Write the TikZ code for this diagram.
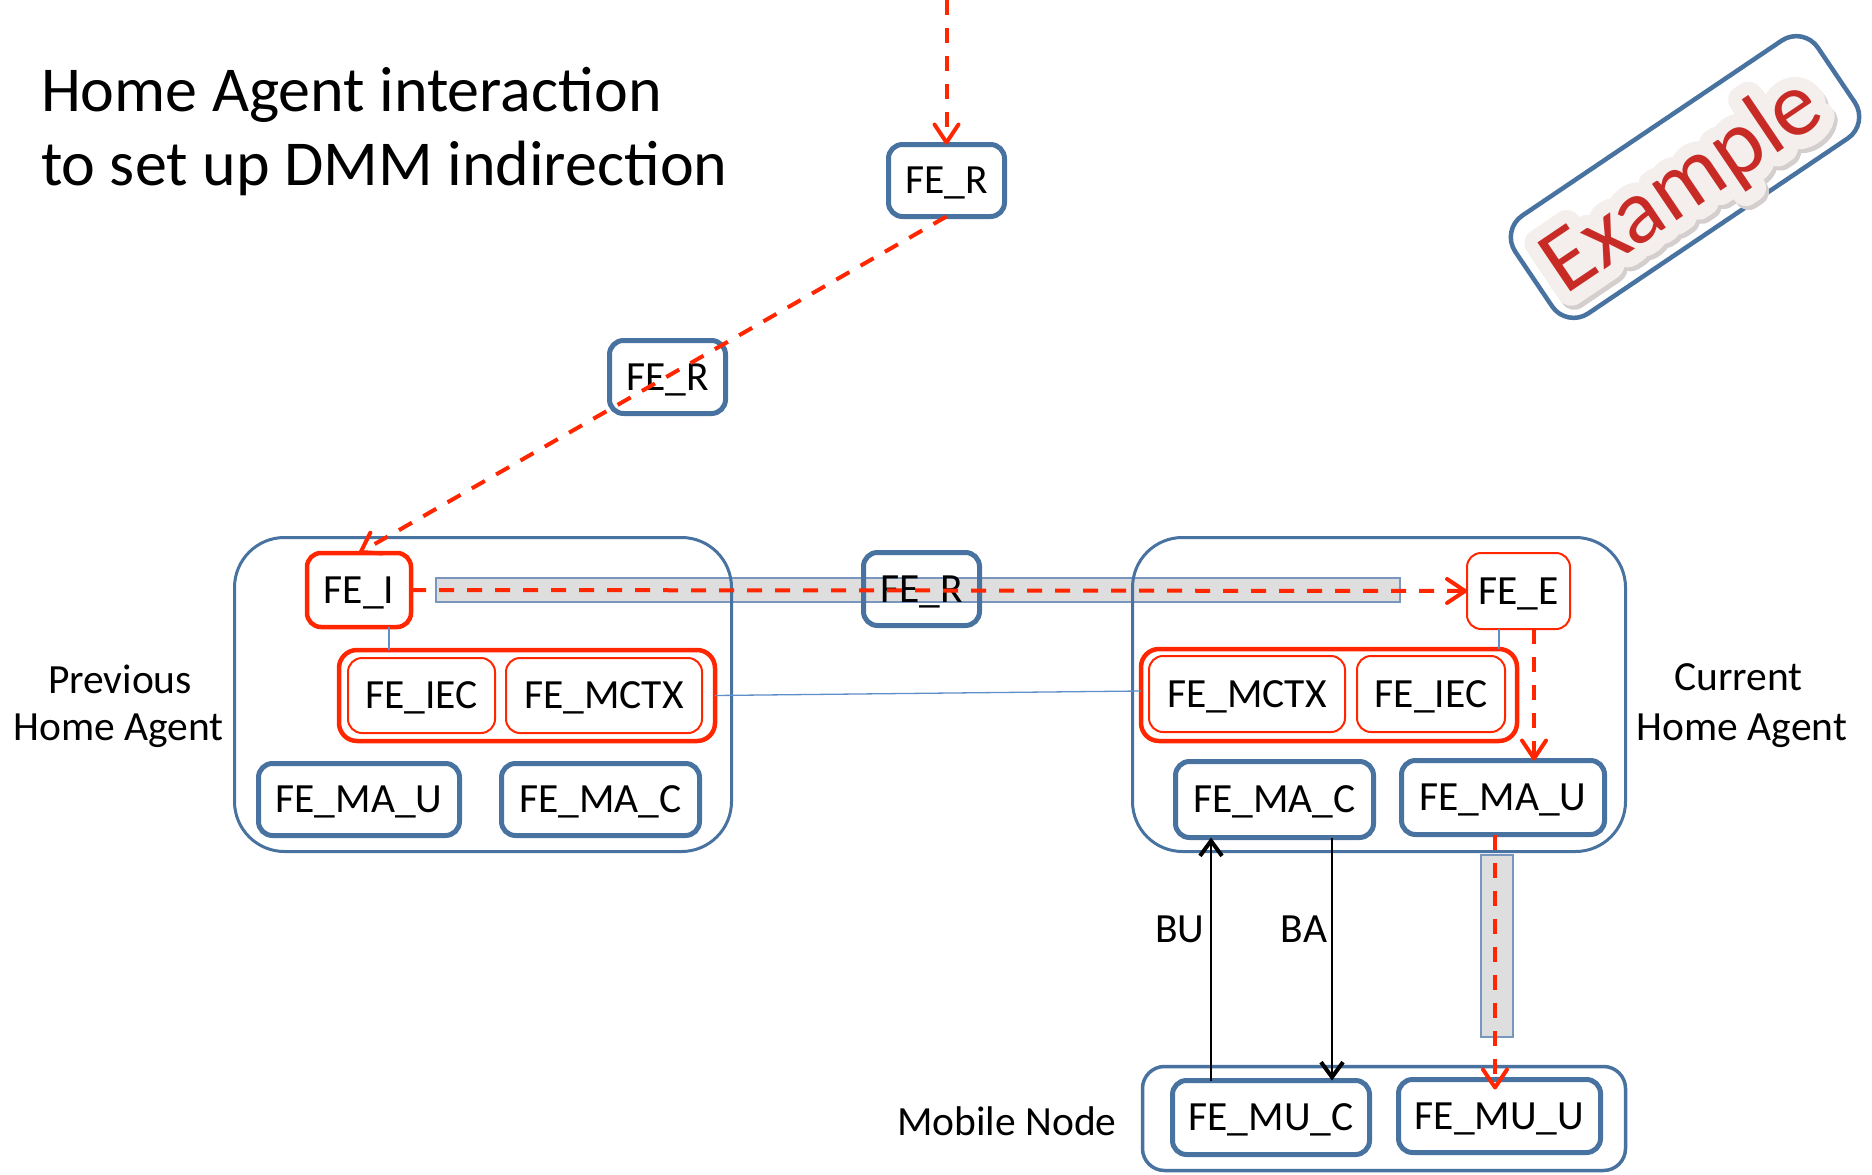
\documentclass[tikz,border=0pt]{standalone}
\usepackage{fontspec}
\setmainfont{Carlito}
\newfontfamily\stickerfont[FakeBold=30]{Carlito}
\usetikzlibrary{arrows.meta,calc}

\definecolor{haBlue}{RGB}{72,114,160}
\definecolor{feRed}{RGB}{255,38,0}
\definecolor{linkBlue}{RGB}{96,142,200}
\definecolor{barGray}{RGB}{222,222,222}
\definecolor{barEdge}{RGB}{120,150,190}
\definecolor{exRed}{RGB}{200,42,38}
\definecolor{exPaper}{RGB}{244,238,237}
\definecolor{exShadow}{RGB}{212,206,206}

\newcommand\boxfont{\fontsize{41.5}{49}\selectfont}
\newcommand\titlefont{\fontsize{64}{74}\selectfont}
\newcommand\stampfont{\fontsize{92}{100}\selectfont}

\begin{document}
\begin{tikzpicture}[x=1pt,y=-1pt,
  every node/.style={inner sep=0pt, outer sep=0pt},
  fe/.style={draw, rounded corners=14pt, font=\boxfont, text height=26pt, text depth=0pt},
  feblue/.style={fe, draw=haBlue, line width=5pt},
  feredthick/.style={fe, draw=feRed, line width=4.5pt},
  feredthin/.style={fe, draw=feRed, line width=2pt},
  agent/.style={draw=haBlue, line width=3pt, rounded corners=50pt},
  grp/.style={draw=feRed, line width=4.5pt, rounded corners=18pt},
  plainlabel/.style={font=\boxfont, anchor=base},
  flow/.style={draw=feRed, line width=4pt, dash pattern=on 15pt off 13pt,
    -{Straight Barb[length=18pt,width=24pt,round]}},
  msg/.style={draw=black, line width=1.5pt,
    -{Straight Barb[length=15pt,width=22pt,line width=4pt]}},
  link/.style={draw=linkBlue, line width=1.3pt},
  bar/.style={fill=barGray, draw=barEdge, line width=1.3pt},
  sticker/.style={rotate=34, line join=round, line cap=round, font=\stampfont\stickerfont},
]
\useasboundingbox (0,0) rectangle (1872,1175);

% title
\node[anchor=base west, font=\titlefont] (title1) at (41,111) {Home Agent interaction};
\node[anchor=base west, font=\titlefont] (title2) at (41,185) {to set up DMM indirection};

% tunnels
\path[bar] (436,578) rectangle (1400,602);
\path[bar] (1481,855) rectangle (1513,1037);

% home agents and mobile node
\node[agent, minimum width=497pt, minimum height=314pt] (haPrev) at (483,694.5) {};
\node[agent, minimum width=493pt, minimum height=314pt] (haCur) at (1379,694.5) {};
\node[draw=haBlue, line width=3.5pt, rounded corners=22pt,
      minimum width=483pt, minimum height=104pt] (mn) at (1384,1118.5) {};

% previous home agent
\node[feredthick, minimum width=104pt, minimum height=74pt] (fei) at (359,590) {FE\_I};
\node[grp, minimum width=376pt, minimum height=91pt] (grpPrev) at (527,695.5) {};
\node[feredthin, minimum width=147pt, minimum height=75pt] (iecPrev) at (421.5,695.5) {FE\_IEC};
\node[feredthin, minimum width=196pt, minimum height=75pt] (mctxPrev) at (604,695.5) {FE\_MCTX};
\node[feblue, minimum width=201pt, minimum height=72pt] (maPrevU) at (359,799.5) {FE\_MA\_U};
\node[feblue, minimum width=198pt, minimum height=72pt] (maPrevC) at (600.5,799.5) {FE\_MA\_C};

% current home agent
\node[feredthin, minimum width=103pt, minimum height=76pt] (fee) at (1518.5,591) {FE\_E};
\node[grp, minimum width=376pt, minimum height=92pt] (grpCur) at (1329,695) {};
\node[feredthin, minimum width=196pt, minimum height=76pt] (mctxCur) at (1247,694) {FE\_MCTX};
\node[feredthin, minimum width=148pt, minimum height=76pt] (iecCur) at (1431,694) {FE\_IEC};
\node[feblue, minimum width=198pt, minimum height=76pt] (maCurC) at (1274.5,799.5) {FE\_MA\_C};
\node[feblue, minimum width=203pt, minimum height=74pt] (maCurU) at (1503,797.5) {FE\_MA\_U};

% mobile node
\node[feblue, minimum width=197pt, minimum height=74pt] (muC) at (1271,1117.5) {FE\_MU\_C};
\node[feblue, minimum width=202pt, minimum height=73pt] (muU) at (1499.5,1116) {FE\_MU\_U};

% routing elements
\node[feblue, minimum width=116pt, minimum height=72pt] (rTop) at (946.5,180.5) {FE\_R};
\node[feblue, minimum width=116pt, minimum height=73pt] (rMid) at (667.5,377) {FE\_R};
\node[feblue, minimum width=116pt, minimum height=73pt] (rHa) at (921.5,589) {FE\_R};

% labels
\node[plainlabel] (prevL1) at (120,693) {Previous};
\node[plainlabel] (prevL2) at (118.5,740) {Home Agent};
\node[plainlabel] (curL1) at (1738.5,690) {Current};
\node[plainlabel] (curL2) at (1742,740) {Home Agent};
\node[plainlabel] (mnL) at (1007,1135) {Mobile Node};
\node[plainlabel] (buL) at (1180,942) {BU};
\node[plainlabel] (baL) at (1304,942) {BA};

% internal links
\draw[link] ([xshift=30pt]fei.south) -- ([xshift=30pt]fei.south |- grpPrev.north);
\draw[link] ([xshift=-19.5pt]fee.south) -- ([xshift=-19.5pt]fee.south |- grpCur.north);
\draw[link] (grpPrev.east) -- ([yshift=4pt]grpCur.west);

% binding update / acknowledgement
\draw[msg] ([xshift=-60pt]muC.north) -- ([xshift=-60pt]muC.north |- maCurC.south);
\draw[msg] ([xshift=57.5pt]maCurC.south) -- ([xshift=57.5pt]maCurC.south |- muC.north);

% data path
\coordinate (feed) at (946.5,0);
\draw[flow] (feed) -- (rTop.north);
\draw[flow] (rTop.south) -- (fei.north);
\draw[flow] (fei.east) -- (fee.west);
\draw[flow] ([xshift=15.5pt]fee.south) -- ([xshift=15.5pt]fee.south |- maCurU.north);
\draw[flow, shorten >=-10pt] ([xshift=-8pt]maCurU.south) -- ([xshift=-8pt]maCurU.south |- muU.north);

% example stamp: frame, shadow, paper outline and lettering
\node[draw=haBlue, line width=4.5pt, rounded corners=26pt,
      minimum width=365pt, minimum height=118pt, rotate=34] (badge) at (1685,177) {};
\coordinate (exC) at (1683,187);
\node[sticker, text=exShadow] (exShade) at ([xshift=3pt, yshift=-4pt]exC) {Example};
\node[sticker, text=exPaper] (exPaper) at (exC) {Example};
\node[rotate=34, text=exRed, font=\stampfont] (exText) at (exC) {Example};
\end{tikzpicture}
\end{document}
